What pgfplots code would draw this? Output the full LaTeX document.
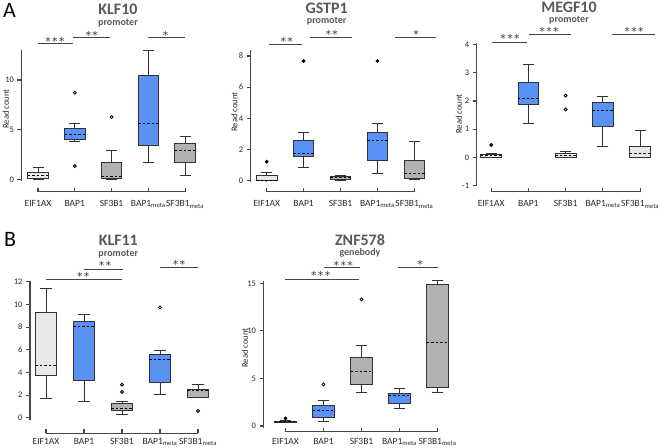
\documentclass[border=0pt]{standalone}
\usepackage{fontspec}
\setmainfont{Carlito}
\newfontfamily\dvs{DejaVu Sans}
\usepackage{pgfplots}
\pgfplotsset{compat=1.18}
\usepgfplotslibrary{statistics}
\definecolor{bblue}{RGB}{90,145,245}
\definecolor{lgray}{RGB}{232,232,232}
\definecolor{mgray}{RGB}{178,178,178}
\definecolor{boxcol}{RGB}{50,50,50}
\definecolor{axiscol}{RGB}{70,70,70}
\definecolor{labcol}{RGB}{40,40,40}
\definecolor{titcol}{RGB}{89,89,89}
\definecolor{starcol}{RGB}{60,60,60}

\tikzset{xline/.style={draw=axiscol, line width=1.3pt}}
\pgfplotsset{
 panel/.style={
  scale only axis, anchor=south west, clip=false,
  axis x line*=bottom, axis y line*=left,
  x axis line style={draw=none},
  y axis line style={draw=axiscol, line width=1.3pt},
  xtick={0,1,2,3,4},
  xticklabels={EIF1AX,BAP1,SF3B1,BAP1\textsubscript{meta},SF3B1\textsubscript{meta}},
  xtick align=inside, ytick align=outside,
  major tick length=4pt,
  tick style={draw=axiscol, line width=1.1pt},
  x tick label style={font=\fontsize{9.5}{11}\selectfont, text=labcol},
  y tick label style={font=\fontsize{8.5}{10}\selectfont, text=labcol},
  /pgf/number format/assume math mode=true,
  boxplot/draw direction=y,
  boxplot/box extend=0.56,
  boxplot/whisker extend=0.3,
  boxplot/every median/.style={draw=black, dash pattern=on 2.5pt off 2pt, line width=0.9pt},
 },
 bx/.style={fill=#1, draw=boxcol, line width=0.9pt, mark=o, mark size=1.5pt, mark options={solid, draw=black, fill=white, line width=0.8pt}},
 bxf/.style={fill=#1, draw=boxcol, line width=0.9pt, mark=*, mark size=1.4pt, mark options={solid, draw=black, fill=black}},
}
\newcommand{\st}[3]{\node[anchor=base, font=\dvs\fontsize{11}{11}\selectfont, text=starcol, inner sep=0pt] at (#1,{447-#2-6.3}) {#3};}
\newcommand{\sigline}[3]{\draw[draw=axiscol, line width=1.1pt] (#1,{447-#3}) -- (#2,{447-#3});}
\newcommand{\ttl}[3]{\node[anchor=base, font=\fontsize{16}{16}\selectfont\bfseries, text=titcol, inner sep=0pt] at (#1,{447-#2}) {#3};}
\newcommand{\sttl}[3]{\node[anchor=base, font=\fontsize{10}{10}\selectfont\bfseries, text=titcol, inner sep=0pt] at (#1,{447-#2}) {#3};}
\newcommand{\rc}[2]{\node[rotate=90, font=\fontsize{8.7}{10}\selectfont, text=labcol, inner sep=0pt] at (#1,{447-#2}) {Read count};}
\newcommand{\stA}{*\hspace{1.4pt}*\hspace{1.4pt}*}
\newcommand{\stB}{*\hspace{1.4pt}*}

\begin{document}
\begin{tikzpicture}
\useasboundingbox (0,0) rectangle (668pt,447pt);

% ---------------- A1 KLF10
\begin{axis}[panel, at={(21.5pt,266.2pt)}, width=180.1pt, height=130.6pt,
  xmin=-0.45, xmax=4.45, ymin=-0.15, ymax=13, ytick={0,5,10}, axis x line shift=10.9pt,
  x tick label style={yshift=-5.5pt}]
\addplot[bx=lgray, boxplot prepared={draw position=0, lower whisker=0, lower quartile=0.1, median=0.4, upper quartile=0.67, upper whisker=1.17}] coordinates {};
\addplot[bx=bblue, boxplot prepared={draw position=1, lower whisker=3.79, lower quartile=4.06, median=4.49, upper quartile=5.13, upper whisker=5.64}] coordinates {(1,8.72) (1,1.34)};
\addplot[bx=mgray, boxplot prepared={draw position=2, lower whisker=0, lower quartile=0.05, median=0.3, upper quartile=1.71, upper whisker=2.88}] coordinates {(2,6.27)};
\addplot[bx=bblue, boxplot prepared={draw position=3, lower whisker=1.67, lower quartile=3.45, median=5.64, upper quartile=10.47, upper whisker=13.0}] coordinates {};
\addplot[bx=mgray, boxplot prepared={draw position=4, lower whisker=0.36, lower quartile=1.67, median=2.95, upper quartile=3.59, upper whisker=4.36}] coordinates {};
\draw[xline] ([yshift=-10.9pt]axis cs:0,-0.15) -- ([yshift=-10.9pt]axis cs:4,-0.15);
\end{axis}

% ---------------- A2 GSTP1
\begin{axis}[panel, at={(250.8pt,264.7pt)}, width=180.2pt, height=131.8pt,
  xmin=-0.43, xmax=4.45, ymin=-0.1, ymax=8.35, ytick={0,2,4,6,8}, axis x line shift=9.4pt,
  x tick label style={yshift=-5.5pt}]
\addplot[bxf=lgray, boxplot prepared={draw position=0, lower whisker=0, lower quartile=0.01, median=0.05, upper quartile=0.35, upper whisker=0.54}] coordinates {(0,1.22)};
\addplot[bxf=bblue, boxplot prepared={draw position=1, lower whisker=0.83, lower quartile=1.58, median=1.78, upper quartile=2.56, upper whisker=3.08}] coordinates {(1,7.67)};
\addplot[bxf=mgray, boxplot prepared={draw position=2, lower whisker=0.05, lower quartile=0.06, median=0.19, upper quartile=0.3, upper whisker=0.33}] coordinates {};
\addplot[bxf=bblue, boxplot prepared={draw position=3, lower whisker=0.47, lower quartile=1.31, median=2.61, upper quartile=3.12, upper whisker=3.68}] coordinates {(3,7.67)};
\addplot[bxf=mgray, boxplot prepared={draw position=4, lower whisker=0.09, lower quartile=0.15, median=0.47, upper quartile=1.28, upper whisker=2.52}] coordinates {};
\draw[xline] ([yshift=-9.4pt]axis cs:0,-0.1) -- ([yshift=-9.4pt]axis cs:4,-0.1);
\end{axis}

% ---------------- A3 MEGF10
\begin{axis}[panel, at={(476.6pt,261.55pt)}, width=180.3pt, height=142.2pt,
  xmin=-0.39, xmax=4.45, ymin=-1, ymax=4.05, ytick={-1,0,1,2,3,4}, axis x line shift=6.25pt,
  x tick label style={yshift=-5.5pt}]
\addplot[bxf=lgray, boxplot prepared={draw position=0, lower whisker=0, lower quartile=0.01, median=0.07, upper quartile=0.09, upper whisker=0.15}] coordinates {(0,0.44)};
\addplot[bx=bblue, boxplot prepared={draw position=1, lower whisker=1.21, lower quartile=1.89, median=2.09, upper quartile=2.64, upper whisker=3.30}] coordinates {};
\addplot[bx=lgray, boxplot prepared={draw position=2, lower whisker=0, lower quartile=0.01, median=0.05, upper quartile=0.14, upper whisker=0.21}] coordinates {(2,2.19) (2,1.70)};
\addplot[bx=bblue, boxplot prepared={draw position=3, lower whisker=0.40, lower quartile=1.09, median=1.68, upper quartile=1.96, upper whisker=2.17}] coordinates {};
\addplot[bx=lgray, boxplot prepared={draw position=4, lower whisker=0, lower quartile=0.0, median=0.12, upper quartile=0.38, upper whisker=0.95}] coordinates {};
\draw[xline] ([yshift=-6.25pt]axis cs:0,-1) -- ([yshift=-6.25pt]axis cs:4,-1);
\end{axis}

% ---------------- B1 KLF11
\begin{axis}[panel, at={(30pt,27pt)}, width=185.1pt, height=139.4pt,
  xmin=-0.42, xmax=4.45, ymin=-0.2, ymax=12.1, ytick={0,2,4,6,8,10,12}, axis x line shift=13.3pt,
  x tick label style={yshift=-1.2pt}]
\addplot[bx=lgray, boxplot prepared={draw position=0, lower whisker=1.74, lower quartile=3.71, median=4.62, upper quartile=9.33, upper whisker=11.39}] coordinates {};
\addplot[bx=bblue, boxplot prepared={draw position=1, lower whisker=1.47, lower quartile=3.33, median=8.07, upper quartile=8.5, upper whisker=9.15}] coordinates {};
\addplot[bx=mgray, boxplot prepared={draw position=2, lower whisker=0.25, lower quartile=0.6, median=0.85, upper quartile=1.28, upper whisker=1.4}] coordinates {(2,2.91) (2,2.27)};
\addplot[bx=bblue, boxplot prepared={draw position=3, lower whisker=2.09, lower quartile=3.12, median=5.15, upper quartile=5.56, upper whisker=5.97}] coordinates {(3,9.74)};
\addplot[bx=mgray, boxplot prepared={draw position=4, lower whisker=1.83, lower quartile=1.83, median=2.44, upper quartile=2.53, upper whisker=2.91}] coordinates {(4,0.59)};
\draw[xline] ([yshift=-13.3pt]axis cs:0,-0.2) -- ([yshift=-13.3pt]axis cs:4,-0.2);
\end{axis}

% ---------------- B2 ZNF578
\begin{axis}[panel, at={(263.5pt,18.6pt)}, width=191.1pt, height=147.4pt,
  xmin=-0.58, xmax=4.45, ymin=-0.25, ymax=15.25, ytick={0,5,10,15}, axis x line shift=3.3pt,
  x tick label style={yshift=-3.2pt}]
\addplot[bxf=lgray, boxplot prepared={draw position=0, lower whisker=0.4, lower quartile=0.42, median=0.45, upper quartile=0.5, upper whisker=0.55}] coordinates {(0,0.8)};
\addplot[bx=bblue, boxplot prepared={draw position=1, lower whisker=0.49, lower quartile=0.91, median=1.61, upper quartile=2.17, upper whisker=2.7}] coordinates {(1,4.38)};
\addplot[bx=mgray, boxplot prepared={draw position=2, lower whisker=3.51, lower quartile=4.42, median=5.71, upper quartile=7.18, upper whisker=8.45}] coordinates {(2,13.32)};
\addplot[bx=bblue, boxplot prepared={draw position=3, lower whisker=1.86, lower quartile=2.38, median=3.26, upper quartile=3.4, upper whisker=3.93}] coordinates {};
\addplot[bx=mgray, boxplot prepared={draw position=4, lower whisker=3.58, lower quartile=4.07, median=8.8, upper quartile=14.86, upper whisker=15.35}] coordinates {};
\draw[xline] ([yshift=-3.3pt]axis cs:0,-0.25) -- ([yshift=-3.3pt]axis cs:4,-0.25);
\end{axis}

\begin{scope}[x=1pt, y=1pt]
% panel letters
\node[anchor=base west, font=\fontsize{22}{22}\selectfont, inner sep=0pt] at (3,{447-18}) {A};
\node[anchor=base west, font=\fontsize{22}{22}\selectfont, inner sep=0pt] at (4,{447-247}) {B};
% titles
\ttl{118}{15}{KLF10} \sttl{118}{25.5}{promoter}
\ttl{326.7}{13.5}{GSTP1} \sttl{326.7}{24}{promoter}
\ttl{569}{12.5}{MEGF10} \sttl{569}{23}{promoter}
\ttl{118.3}{246}{KLF11} \sttl{118.3}{256.5}{promoter}
\ttl{360}{245.5}{ZNF578} \sttl{360}{256}{genebody}
% read count labels
\rc{6}{109} \rc{234.5}{112} \rc{459}{114} \rc{245}{348}
% significance A1
\sigline{38}{73}{43.5} \st{55}{39}{\stA}
\sigline{73}{110}{37.5} \st{91.7}{33.3}{\stB}
\sigline{148}{185}{37.5} \st{165.7}{33.3}{*}
% A2
\sigline{269.3}{301.7}{44.5} \st{286.7}{39.3}{\stB}
\sigline{310}{352.3}{37.5} \st{331.7}{32.3}{\stB}
\sigline{395}{436}{37.5} \st{416}{32.3}{*}
% A3
\sigline{492.3}{527.3}{42.5} \st{510}{36.7}{\stA}
\sigline{529}{570.7}{34.5} \st{549}{29.3}{\stA}
\sigline{612.3}{655}{34.5} \st{634}{29.3}{\stA}
% B1
\sigline{45.7}{122.3}{279.5} \st{83.3}{274.3}{\stB}
\sigline{84}{122.7}{269.5} \st{105}{263.3}{\stB}
\sigline{160.3}{198}{267.5} \st{179}{262.3}{\stB}
% B2
\sigline{285}{359}{279.5} \st{320.7}{273.3}{\stA}
\sigline{324.3}{360}{267.5} \st{343.3}{263.3}{\stA}
\sigline{398.3}{438.3}{267.5} \st{420}{262.3}{*}
\end{scope}
\end{tikzpicture}
\end{document}
